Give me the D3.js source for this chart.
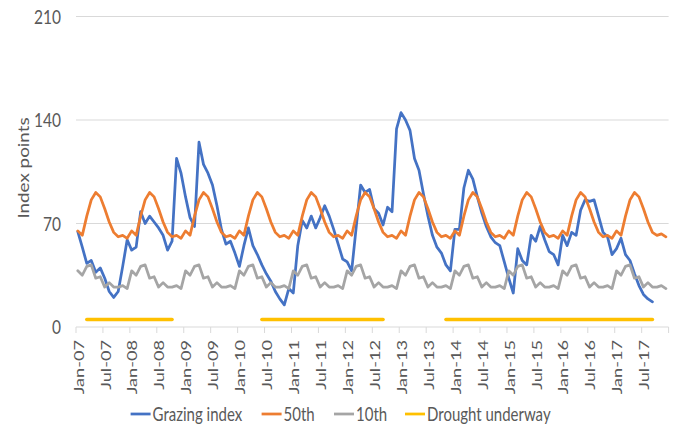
<!DOCTYPE html>
<html><head><meta charset="utf-8">
<script src="https://cdn.jsdelivr.net/npm/d3@7"></script>
<style>body{margin:0;background:#fff} svg{display:block}</style>
</head><body><svg id="c" width="673" height="434"></svg>
<script>
// ---------- data ----------
const yTicks = [0, 70, 140, 210];
const tickLabels = ["Jan-07","Jul-07","Jan-08","Jul-08","Jan-09","Jul-09","Jan-10","Jul-10",
  "Jan-11","Jul-11","Jan-12","Jul-12","Jan-13","Jul-13","Jan-14","Jul-14","Jan-15","Jul-15",
  "Jan-16","Jul-16","Jan-17","Jul-17"];
const seriesNames = ["Grazing index", "50th", "10th", "Drought underway"];

// monthly, Jan-07 ...
const grazing = [
  64.5, 54, 43, 45, 37, 40, 33, 24, 20, 24, 41, 59,
  52, 54, 78, 70, 75, 71, 67, 62, 52, 58, 114, 104,
  88, 74, 68, 125, 110, 104, 96, 82, 66, 56, 58, 50,
  41, 55, 67, 55, 49, 42, 36, 31, 24, 19, 15, 26,
  23, 55, 72, 67, 75, 67, 74, 82, 75, 66, 56, 46,
  44, 38, 67, 96, 91, 93, 80, 77, 69, 81, 78, 134,
  145, 140, 133, 114, 106, 90, 75, 62, 54, 50, 42, 38,
  66, 66, 94, 106, 100, 88, 77, 68, 61, 57, 55, 44,
  33, 23, 53, 45, 42, 62, 58, 68, 59, 51, 49, 42,
  62, 55, 64, 62, 79, 86, 85, 86, 75, 64, 61, 49,
  53, 60, 49, 45, 36, 28, 22, 19, 17];

const p50 = [
  65, 62, 75, 86, 91, 88, 80, 71, 64, 61, 62, 60,
  65, 62, 75, 86, 91, 88, 80, 71, 64, 61, 62, 60,
  65, 62, 75, 86, 91, 88, 80, 71, 64, 61, 62, 60,
  65, 62, 75, 86, 91, 88, 80, 71, 64, 61, 62, 60,
  65, 62, 75, 86, 91, 88, 80, 71, 64, 61, 62, 60,
  65, 62, 75, 86, 91, 88, 80, 71, 64, 61, 62, 60,
  65, 62, 75, 86, 91, 88, 80, 71, 64, 61, 62, 60,
  65, 62, 75, 86, 91, 88, 80, 71, 64, 61, 62, 60,
  65, 62, 75, 86, 91, 88, 80, 71, 64, 61, 62, 60,
  65, 62, 75, 86, 91, 88, 80, 71, 64, 61, 62, 60,
  65, 62, 75, 86, 91, 88, 80, 71, 64, 62, 63, 61];

const p10 = [
  38, 35, 41, 42, 33, 34, 27, 30, 27, 27, 28, 26,
  38, 35, 41, 42, 33, 34, 27, 30, 27, 27, 28, 26,
  38, 35, 41, 42, 33, 34, 27, 30, 27, 27, 28, 26,
  38, 35, 41, 42, 33, 34, 27, 30, 27, 27, 28, 26,
  38, 35, 41, 42, 33, 34, 27, 30, 27, 27, 28, 26,
  38, 35, 41, 42, 33, 34, 27, 30, 27, 27, 28, 26,
  38, 35, 41, 42, 33, 34, 27, 30, 27, 27, 28, 26,
  38, 35, 41, 42, 33, 34, 27, 30, 27, 27, 28, 26,
  38, 35, 41, 42, 33, 34, 27, 30, 27, 27, 28, 26,
  38, 35, 41, 42, 33, 34, 27, 30, 27, 27, 28, 26,
  38, 35, 41, 42, 33, 34, 27, 30, 27, 27, 28, 26];

const droughtStart = ["Mar-07", "Jun-10", "Nov-13"];
const droughtEnd   = ["Oct-08", "Sep-12", "Sep-17"];
const droughtLevel = 5;

// ---------- layout ----------
const L = 76, R = 668.6, T = 16.5, B = 327;
const OFF = 0.4;            // point position inside each month slot
const SY = 1.3;             // vertical stretch of the original picture's text
const colors = ["#4472C4", "#ED7D31", "#A5A5A5", "#FFC000"];
const FONT = "Lato, 'Open Sans', sans-serif";
const TXT = "#595959";

const fmt = d3.timeFormat("%b-%y");
const months = d3.timeMonth.range(new Date(2007, 0, 1), new Date(2018, 0, 1)).map(fmt);

const x = d3.scaleLinear().domain([0, months.length]).range([L, R]);
const y = d3.scaleLinear().domain([0, 210]).range([B, T]);

const svg = d3.select("#c");

function stext(g, str, px, py, rot, size, anchor, dy) {
  return g.append("text")
    .attr("transform", `translate(${px},${py}) scale(1,${SY}) rotate(${rot})`)
    .attr("text-anchor", anchor).attr("dy", dy)
    .attr("font-family", FONT).attr("font-size", size).attr("fill", TXT)
    .text(str);
}

// gridlines
svg.append("g").selectAll("line").data(yTicks.filter(v => v > 0)).join("line")
  .attr("x1", L).attr("x2", R).attr("y1", d => y(d)).attr("y2", d => y(d))
  .attr("stroke", "#d9d9d9").attr("stroke-width", 1);

// x axis line + ticks
const xg = svg.append("g");
xg.append("line").attr("x1", L).attr("x2", R).attr("y1", y(0)).attr("y2", y(0))
  .attr("stroke", "#d9d9d9").attr("stroke-width", 1);
const tickIdx = d3.range(0, months.length + 1, 6);
xg.selectAll("line.t").data(tickIdx).join("line").attr("class", "t")
  .attr("x1", d => x(d)).attr("x2", d => x(d)).attr("y1", y(0)).attr("y2", y(0) + 6)
  .attr("stroke", "#d9d9d9").attr("stroke-width", 1);
tickLabels.forEach(lab => {
  const i = months.indexOf(lab);
  stext(xg, lab, x(i) + 2.7, y(0) + 13, -90, 14, "end", "0.35em");
});

// y labels
yTicks.forEach(v => stext(svg, String(v), 61, y(v), 0, 15.5, "end", "0.35em"));
stext(svg, "Index points", 24, 168, -90, 14.5, "middle", "0.35em");

// lines
const line = d3.line().x((d, i) => x(i + OFF)).y(d => y(d));
[grazing, p50, p10].forEach((s, k) => {
  svg.append("path").datum(s).attr("d", line)
    .attr("fill", "none").attr("stroke", colors[k]).attr("stroke-width", 2.75)
    .attr("stroke-linejoin", "round").attr("stroke-linecap", "round");
});
droughtStart.forEach((s, k) => {
  const a = months.indexOf(s), b = months.indexOf(droughtEnd[k]);
  const seg = d3.range(a, b + 1).map(i => [i, droughtLevel]);
  svg.append("path").datum(seg)
    .attr("d", d3.line().x(d => x(d[0] + OFF)).y(d => y(d[1])))
    .attr("fill", "none").attr("stroke", colors[3]).attr("stroke-width", 3.5)
    .attr("stroke-linecap", "round");
});

// legend
const legSw = [130.6, 261.6, 334, 405];
const legY = 414;
const lg = svg.append("g");
seriesNames.forEach((n, k) => {
  lg.append("line").attr("x1", legSw[k]).attr("x2", legSw[k] + 20)
    .attr("y1", legY).attr("y2", legY)
    .attr("stroke", colors[k]).attr("stroke-width", 2.75);
  stext(lg, n, legSw[k] + 22, legY, 0, 15, "start", "0.35em");
});
</script>
</body></html>
